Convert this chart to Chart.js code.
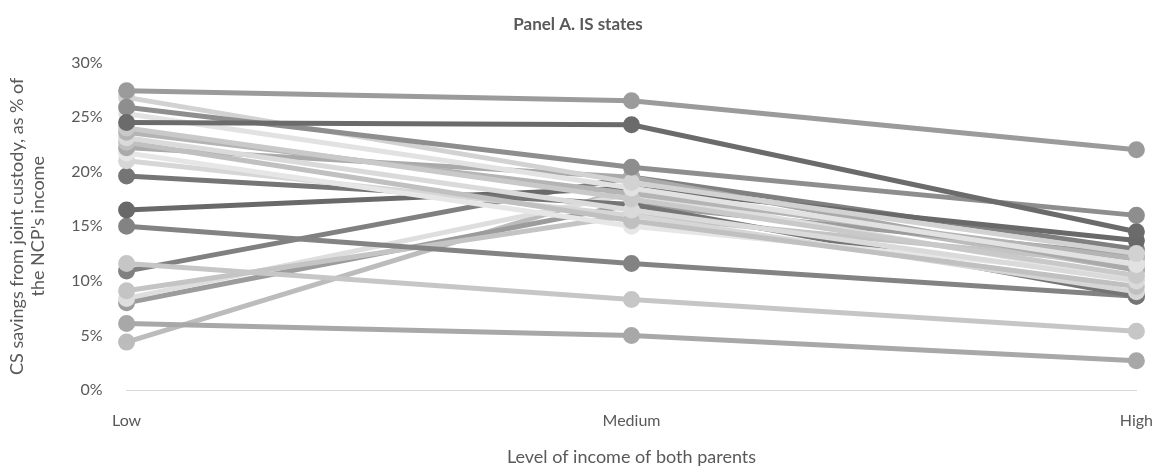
<!DOCTYPE html>
<html>
<head>
<meta charset="utf-8">
<script src="https://cdn.jsdelivr.net/npm/chart.js@4"></script>
<style>
  html, body { margin: 0; padding: 0; background: #fff; }
  #wrap { width: 1166px; height: 472px; }
</style>
</head>
<body>
<div id="wrap"><canvas id="chart" width="1166" height="472"></canvas></div>
<script>
const categories = ['Low', 'Medium', 'High'];
const yTicks = [0, 5, 10, 15, 20, 25, 30];

// one row per state: [low, medium, high] in %
const s01 = [27.4, 26.5, 22.0];
const s02 = [24.5, 24.3, 14.5];
const s03 = [25.9, 20.4, 16.0];
const s04 = [26.8, 19.0, 12.5];
const s05 = [25.3, 18.5, 11.5];
const s06 = [24.0, 17.5, 10.5];
const s07 = [23.6, 18.0, 12.0];
const s08 = [23.1, 16.5, 10.0];
const s09 = [22.7, 15.5, 9.5];
const s10 = [22.2, 19.5, 11.0];
const s11 = [21.7, 15.0, 10.5];
const s12 = [21.0, 16.0, 9.0];
const s13 = [19.6, 17.0, 8.6];
const s14 = [16.5, 18.5, 13.7];
const s15 = [15.0, 11.6, 8.6];
const s16 = [11.6, 8.3, 5.4];
const s17 = [10.9, 19.5, 12.9];
const s18 = [9.1, 16.0, 11.5];
const s19 = [8.4, 18.0, 10.2];
const s20 = [8.0, 17.0, 12.3];
const s21 = [6.1, 5.0, 2.7];
const s22 = [4.4, 18.5, 11.0];

const seriesList = [s01, s02, s03, s04, s05, s06, s07, s08, s09, s10, s11,
                    s12, s13, s14, s15, s16, s17, s18, s19, s20, s21, s22];
const greys = ['#9b9b9b', '#6b6b6b', '#8e8e8e', '#d2d2d2', '#e2e2e2', '#c9c9c9',
               '#b4b4b4', '#dadada', '#c0c0c0', '#aaaaaa', '#e6e6e6', '#d6d6d6',
               '#757575', '#696969', '#838383', '#c6c6c6', '#808080', '#c4c4c4',
               '#dedede', '#9c9c9c', '#a8a8a8', '#bcbcbc'];

const txt = '#595959';
const ctx = document.getElementById('chart').getContext('2d');
new Chart(ctx, {
   type: 'line',
   data: {
      labels: categories,
      datasets: seriesList.map(function(d, i) {
         return {
            label: 'State ' + (i + 1),
            data: d,
            borderColor: greys[i],
            backgroundColor: greys[i],
            borderWidth: 5,
            pointRadius: 6,
            pointHoverRadius: 6,
            fill: false,
            tension: 0
         };
      })
   },
   options: {
      responsive: false,
      animation: false,
      layout: { padding: { left: 2, right: 12, top: 4, bottom: 0 } },
      plugins: {
         legend: { display: false },
         tooltip: { enabled: false },
         title: {
            display: true,
            text: 'Panel A. IS states',
            color: txt,
            font: { family: 'Lato', size: 17, weight: 'bold' },
            padding: { top: 10, bottom: 28 }
         }
      },
      scales: {
         x: {
            grid: { display: false },
            border: { color: '#d9d9d9', width: 1 },
            ticks: { color: txt, font: { family: 'Lato', size: 16 }, padding: 13, maxRotation: 0 },
            title: {
               display: true,
               text: 'Level of income of both parents',
               color: txt,
               font: { family: 'Lato', size: 18 },
               padding: { top: 3 }
            }
         },
         y: {
            min: 0,
            max: 30,
            afterBuildTicks: function(axis) {
               axis.ticks = yTicks.map(function(v) { return { value: v }; });
            },
            grid: { display: false },
            border: { display: false },
            ticks: {
               color: txt,
               font: { family: 'Lato', size: 16 },
               padding: 16,
               callback: function(v) { return v + '%'; }
            },
            title: {
               display: true,
               text: ['CS savings from joint custody, as % of', "the NCP's income"],
               color: txt,
               font: { family: 'Lato', size: 18 },
               padding: { bottom: 6 }
            }
         }
      }
   }
});
</script>
</body>
</html>
